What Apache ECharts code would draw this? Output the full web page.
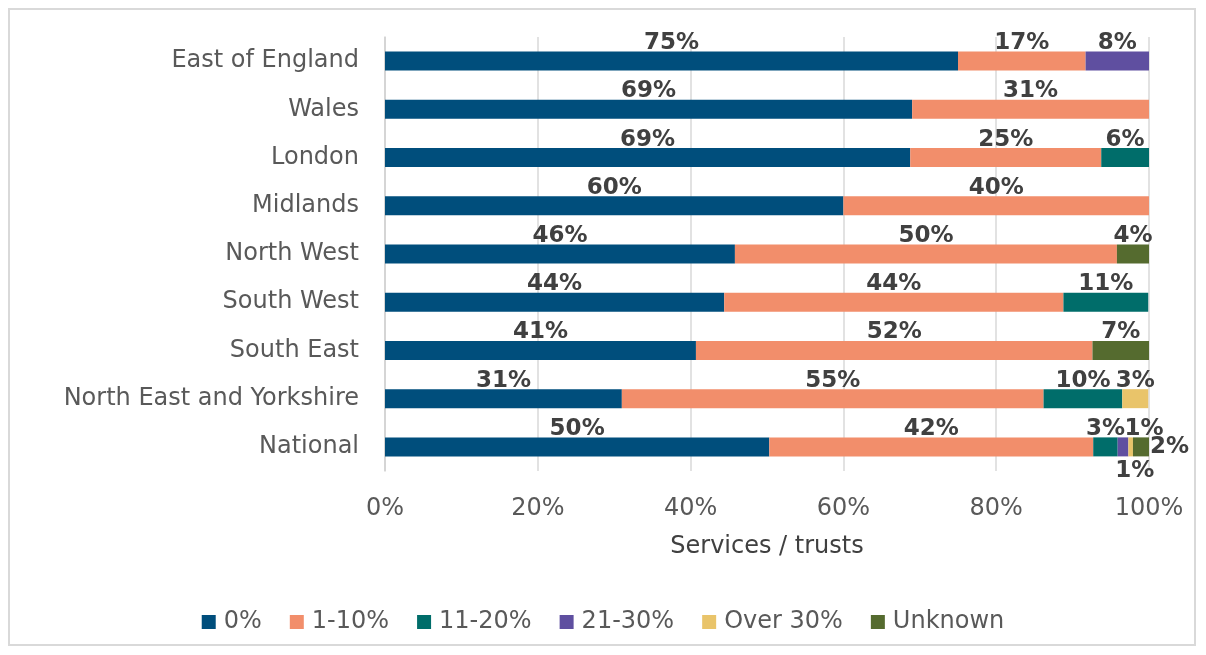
<!DOCTYPE html>
<html lang="en">
<head>
<meta charset="UTF-8">
<script src="https://cdn.jsdelivr.net/npm/echarts@6/dist/echarts.min.js"></script>
<style>
  body { margin: 0; background: #fff; }
  #frame { position: absolute; left: 8px; top: 8px; width: 1188px; height: 638px; border: 2px solid #d9d9d9; box-sizing: border-box; }
  #chart { position: absolute; left: 0; top: 0; width: 1206px; height: 655px; }
</style>
</head>
<body>
<div id="frame"></div>
<div id="chart"></div>
<script>
// regions, top to bottom
var regions = ['East of England', 'Wales', 'London', 'Midlands', 'North West', 'South West', 'South East', 'North East and Yorkshire', 'National'];
var bands = ['0%', '1-10%', '11-20%', '21-30%', 'Over 30%', 'Unknown'];
var colors = ['#004e7c', '#f28e6b', '#006d6a', '#5f4fa0', '#e9c46a', '#556b2f'];

// share of services / trusts (%) per band
var zero     = [75,   69,   68.75, 60, 45.8, 44.4, 40.7, 31,   50.3];
var low      = [16.7, 31,   25,    40, 50,   44.4, 51.9, 55.2, 42.4];
var mid      = [0,    0,    6.25,  0,  0,    11.1, 0,    10.3, 3.2];
var high     = [8.3,  0,    0,     0,  0,    0,    0,    0,    1.4];
var over30   = [0,    0,    0,     0,  0,    0,    0,    3.4,  0.6];
var unknown  = [0,    0,    0,     0,  4.2,  0,    7.4,  0,    2.1];

var xTicks = [0, 20, 40, 60, 80, 100];

var font = '"DejaVu Sans", sans-serif';
var allData = [zero, low, mid, high, over30, unknown];

// National has crowded small segments: nudge their labels like the original
var nationalLabel = {
  '21-30%': { position: 'top', offset: [21, 0] },
  'Over 30%': { position: 'bottom', offset: [4, 6] },
  'Unknown': { position: 'right', distance: 1 }
};

var series = bands.map(function (name, i) {
  return {
    name: name,
    type: 'bar',
    stack: 'all',
    barWidth: 19,
    itemStyle: { color: colors[i] },
    label: {
      show: true,
      position: 'top',
      distance: -3,
      fontFamily: font,
      fontWeight: 'bold',
      fontSize: 23,
      color: '#404040',
      formatter: function (p) { return p.value > 0 ? Math.round(p.value) + '%' : ''; }
    },
    data: allData[i].map(function (v, j) {
      var item = { value: v };
      if (regions[j] === 'National' && nationalLabel[name]) {
        item.label = nationalLabel[name];
      }
      return item;
    })
  };
});

var chart = echarts.init(document.getElementById('chart'));
chart.setOption({
  animation: false,
  grid: { left: 385, right: 57, top: 37, bottom: 184 },
  legend: {
    bottom: 16,
    left: 'center',
    itemWidth: 14,
    itemHeight: 14,
    itemGap: 28,
    icon: 'rect',
    textStyle: { fontFamily: font, fontSize: 24, color: '#595959', padding: [0, 0, 0, 3] },
    data: bands
  },
  xAxis: {
    type: 'value',
    min: 0,
    max: 100,
    interval: 20,
    name: 'Services / trusts',
    nameLocation: 'middle',
    nameGap: 64,
    nameTextStyle: { fontFamily: font, fontSize: 24, color: '#404040' },
    axisLabel: { fontFamily: font, fontSize: 24, color: '#595959', margin: 26, formatter: '{value}%',
      customValues: xTicks },
    axisLine: { show: false },
    axisTick: { show: false },
    splitLine: { lineStyle: { color: '#d9d9d9', width: 1.5 } }
  },
  yAxis: {
    type: 'category',
    inverse: true,
    data: regions,
    axisLabel: { fontFamily: font, fontSize: 24, color: '#595959', margin: 26 },
    axisLine: { lineStyle: { color: '#d0d0d0', width: 1.5 } },
    axisTick: { show: false }
  },
  series: series
});
</script>
</body>
</html>
